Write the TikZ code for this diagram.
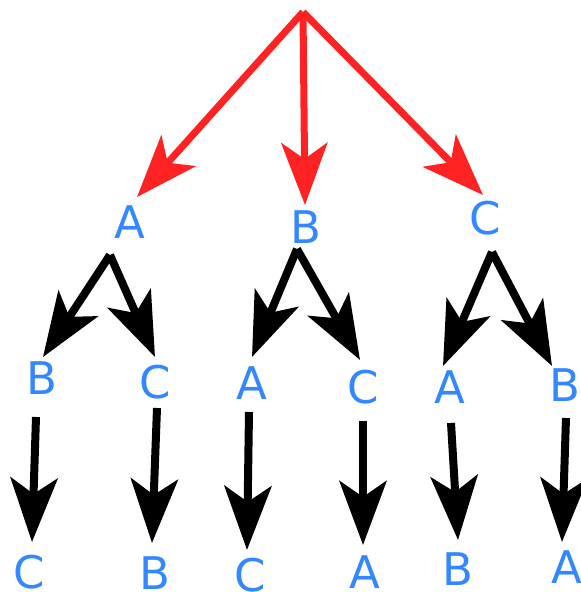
\documentclass[tikz,border=0pt]{standalone}
\usepackage{fontspec}
\setmainfont{DejaVu Sans}
\usetikzlibrary{arrows.meta}
\definecolor{lblue}{RGB}{51,136,255}
\definecolor{lred}{RGB}{255,34,34}
\tikzset{
  lbl/.style={text=lblue, inner sep=0pt, font=\fontsize{45}{54}\selectfont},
  redarr/.style={draw=lred, line width=7pt, -{Stealth[length=62pt, width=46pt, inset=16pt]}},
  blkarr/.style={draw=black, line width=8pt, -{Stealth[length=64pt, width=47pt, inset=16pt]}}
}
\begin{document}
\begin{tikzpicture}[x=1pt, y=-1pt]
\useasboundingbox (0,0) rectangle (581,592);
% root
\coordinate (root) at (303,12);
% level 1 labels
\node[lbl] (A) at (130,222) {A};
\node[lbl] (B) at (306,227) {B};
\node[lbl] (C) at (485,218) {C};
% level 1 arrow tips
\coordinate (tA) at (137,197);
\coordinate (tB) at (305,205);
\coordinate (tC) at (483,195);
\draw[redarr] (root) -- (tA);
\draw[redarr] (root) -- (tB);
\draw[redarr] (root) -- (tC);
% level 2 labels
\node[lbl] (AB) at (42,378) {B};
\node[lbl] (AC) at (155,382) {C};
\node[lbl] (BA) at (252,383) {A};
\node[lbl] (BC) at (363,387) {C};
\node[lbl] (CA) at (450,387) {A};
\node[lbl] (CB) at (565,385) {B};
% apexes
\coordinate (pA) at (110,255);
\coordinate (pB) at (297,249);
\coordinate (pC) at (492,252);
% level 2 tips
\coordinate (tAB) at (43,357);
\coordinate (tAC) at (155,357);
\coordinate (tBA) at (252,357);
\coordinate (tBC) at (360,360);
\coordinate (tCA) at (443,366);
\coordinate (tCB) at (552,366);
\draw[blkarr] (pA) -- (tAB);
\draw[blkarr] (pA) -- (tAC);
\draw[blkarr] (pB) -- (tBA);
\draw[blkarr] (pB) -- (tBC);
\draw[blkarr] (pC) -- (tCA);
\draw[blkarr] (pC) -- (tCB);
% level 3 labels
\node[lbl] (ABC) at (29,572) {C};
\node[lbl] (ACB) at (155,573) {B};
\node[lbl] (BAC) at (250,575) {C};
\node[lbl] (BCA) at (365,572) {A};
\node[lbl] (CAB) at (458,569) {B};
\node[lbl] (CBA) at (567,567) {A};
% level 3 arrows
\coordinate (sABC) at (36,417);  \coordinate (tABC) at (32,542);
\coordinate (sACB) at (157,408); \coordinate (tACB) at (152,543);
\coordinate (sBAC) at (249,412); \coordinate (tBAC) at (247,550);
\coordinate (sBCA) at (363,421); \coordinate (tBCA) at (363,545);
\coordinate (sCAB) at (451,423); \coordinate (tCAB) at (458,540);
\coordinate (sCBA) at (566,418); \coordinate (tCBA) at (562,542);
\draw[blkarr] (sABC) -- (tABC);
\draw[blkarr] (sACB) -- (tACB);
\draw[blkarr] (sBAC) -- (tBAC);
\draw[blkarr] (sBCA) -- (tBCA);
\draw[blkarr] (sCAB) -- (tCAB);
\draw[blkarr] (sCBA) -- (tCBA);
\end{tikzpicture}
\end{document}
